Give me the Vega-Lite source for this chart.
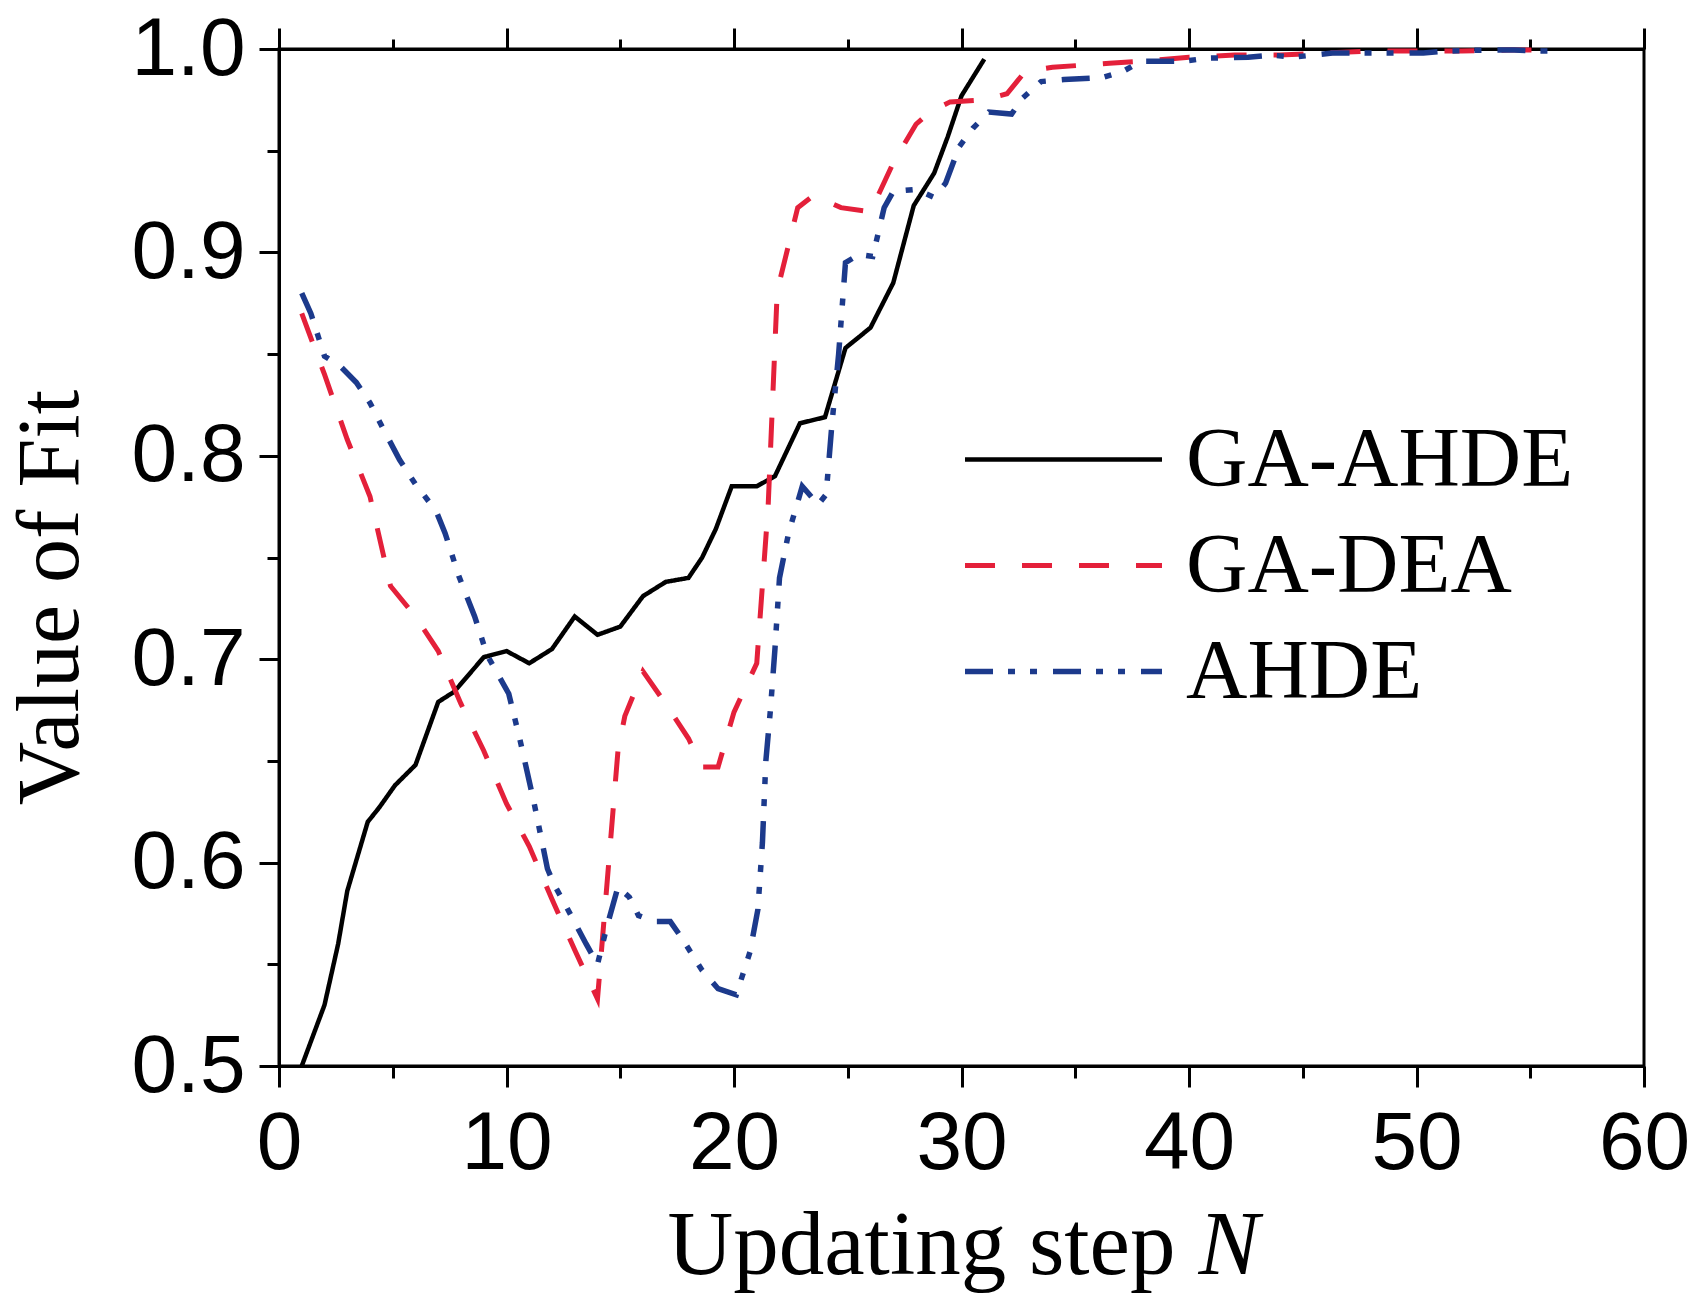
{
  "$schema": "https://vega.github.io/schema/vega-lite/v6.json",
  "width": 1365,
  "height": 1017,
  "autosize": {"type": "none"},
  "padding": {"left": 279, "top": 49, "right": 56, "bottom": 240},
  "background": "white",
  "data": {
    "values": [
      {"step": 1, "fit": 0.500, "method": "GA-AHDE"},
      {"step": 2, "fit": 0.530, "method": "GA-AHDE"},
      {"step": 2.6, "fit": 0.560, "method": "GA-AHDE"},
      {"step": 3, "fit": 0.586, "method": "GA-AHDE"},
      {"step": 3.9, "fit": 0.620, "method": "GA-AHDE"},
      {"step": 4.4, "fit": 0.627, "method": "GA-AHDE"},
      {"step": 5.1, "fit": 0.638, "method": "GA-AHDE"},
      {"step": 6, "fit": 0.648, "method": "GA-AHDE"},
      {"step": 7, "fit": 0.679, "method": "GA-AHDE"},
      {"step": 7.7, "fit": 0.684, "method": "GA-AHDE"},
      {"step": 9, "fit": 0.701, "method": "GA-AHDE"},
      {"step": 10, "fit": 0.704, "method": "GA-AHDE"},
      {"step": 11, "fit": 0.698, "method": "GA-AHDE"},
      {"step": 12, "fit": 0.705, "method": "GA-AHDE"},
      {"step": 13, "fit": 0.721, "method": "GA-AHDE"},
      {"step": 14, "fit": 0.712, "method": "GA-AHDE"},
      {"step": 15, "fit": 0.716, "method": "GA-AHDE"},
      {"step": 16, "fit": 0.731, "method": "GA-AHDE"},
      {"step": 17, "fit": 0.738, "method": "GA-AHDE"},
      {"step": 18, "fit": 0.740, "method": "GA-AHDE"},
      {"step": 18.6, "fit": 0.750, "method": "GA-AHDE"},
      {"step": 19.2, "fit": 0.764, "method": "GA-AHDE"},
      {"step": 19.9, "fit": 0.785, "method": "GA-AHDE"},
      {"step": 21, "fit": 0.785, "method": "GA-AHDE"},
      {"step": 21.8, "fit": 0.790, "method": "GA-AHDE"},
      {"step": 22.9, "fit": 0.816, "method": "GA-AHDE"},
      {"step": 24, "fit": 0.819, "method": "GA-AHDE"},
      {"step": 24.9, "fit": 0.853, "method": "GA-AHDE"},
      {"step": 26, "fit": 0.863, "method": "GA-AHDE"},
      {"step": 27, "fit": 0.885, "method": "GA-AHDE"},
      {"step": 27.9, "fit": 0.923, "method": "GA-AHDE"},
      {"step": 28.8, "fit": 0.939, "method": "GA-AHDE"},
      {"step": 29.4, "fit": 0.957, "method": "GA-AHDE"},
      {"step": 30, "fit": 0.977, "method": "GA-AHDE"},
      {"step": 31, "fit": 0.995, "method": "GA-AHDE"},

      {"step": 1, "fit": 0.870, "method": "GA-DEA"},
      {"step": 2, "fit": 0.840, "method": "GA-DEA"},
      {"step": 3, "fit": 0.808, "method": "GA-DEA"},
      {"step": 4, "fit": 0.780, "method": "GA-DEA"},
      {"step": 4.9, "fit": 0.736, "method": "GA-DEA"},
      {"step": 6, "fit": 0.721, "method": "GA-DEA"},
      {"step": 7, "fit": 0.704, "method": "GA-DEA"},
      {"step": 8, "fit": 0.678, "method": "GA-DEA"},
      {"step": 9, "fit": 0.655, "method": "GA-DEA"},
      {"step": 10, "fit": 0.629, "method": "GA-DEA"},
      {"step": 11, "fit": 0.608, "method": "GA-DEA"},
      {"step": 12, "fit": 0.582, "method": "GA-DEA"},
      {"step": 13, "fit": 0.557, "method": "GA-DEA"},
      {"step": 14, "fit": 0.533, "method": "GA-DEA"},
      {"step": 14.9, "fit": 0.655, "method": "GA-DEA"},
      {"step": 15.2, "fit": 0.672, "method": "GA-DEA"},
      {"step": 16, "fit": 0.694, "method": "GA-DEA"},
      {"step": 17, "fit": 0.678, "method": "GA-DEA"},
      {"step": 18, "fit": 0.661, "method": "GA-DEA"},
      {"step": 18.6, "fit": 0.647, "method": "GA-DEA"},
      {"step": 19.3, "fit": 0.647, "method": "GA-DEA"},
      {"step": 20, "fit": 0.674, "method": "GA-DEA"},
      {"step": 21, "fit": 0.698, "method": "GA-DEA"},
      {"step": 21.5, "fit": 0.775, "method": "GA-DEA"},
      {"step": 21.9, "fit": 0.881, "method": "GA-DEA"},
      {"step": 22.8, "fit": 0.922, "method": "GA-DEA"},
      {"step": 23.5, "fit": 0.928, "method": "GA-DEA"},
      {"step": 24.7, "fit": 0.922, "method": "GA-DEA"},
      {"step": 26, "fit": 0.920, "method": "GA-DEA"},
      {"step": 27, "fit": 0.944, "method": "GA-DEA"},
      {"step": 28, "fit": 0.963, "method": "GA-DEA"},
      {"step": 28.6, "fit": 0.969, "method": "GA-DEA"},
      {"step": 29.5, "fit": 0.974, "method": "GA-DEA"},
      {"step": 31, "fit": 0.975, "method": "GA-DEA"},
      {"step": 32, "fit": 0.978, "method": "GA-DEA"},
      {"step": 32.8, "fit": 0.989, "method": "GA-DEA"},
      {"step": 34, "fit": 0.991, "method": "GA-DEA"},
      {"step": 36.5, "fit": 0.993, "method": "GA-DEA"},
      {"step": 38, "fit": 0.994, "method": "GA-DEA"},
      {"step": 40, "fit": 0.996, "method": "GA-DEA"},
      {"step": 42, "fit": 0.997, "method": "GA-DEA"},
      {"step": 44, "fit": 0.997, "method": "GA-DEA"},
      {"step": 46, "fit": 0.998, "method": "GA-DEA"},
      {"step": 48, "fit": 0.999, "method": "GA-DEA"},
      {"step": 50, "fit": 0.999, "method": "GA-DEA"},
      {"step": 52, "fit": 0.999, "method": "GA-DEA"},
      {"step": 54, "fit": 0.9995, "method": "GA-DEA"},
      {"step": 55.5, "fit": 0.9995, "method": "GA-DEA"},

      {"step": 1, "fit": 0.880, "method": "AHDE"},
      {"step": 1.4, "fit": 0.870, "method": "AHDE"},
      {"step": 2, "fit": 0.849, "method": "AHDE"},
      {"step": 2.7, "fit": 0.844, "method": "AHDE"},
      {"step": 3.4, "fit": 0.836, "method": "AHDE"},
      {"step": 4, "fit": 0.826, "method": "AHDE"},
      {"step": 4.5, "fit": 0.815, "method": "AHDE"},
      {"step": 5.3, "fit": 0.798, "method": "AHDE"},
      {"step": 6, "fit": 0.786, "method": "AHDE"},
      {"step": 6.9, "fit": 0.773, "method": "AHDE"},
      {"step": 7.3, "fit": 0.762, "method": "AHDE"},
      {"step": 7.9, "fit": 0.741, "method": "AHDE"},
      {"step": 8.6, "fit": 0.721, "method": "AHDE"},
      {"step": 9.15, "fit": 0.702, "method": "AHDE"},
      {"step": 10.1, "fit": 0.683, "method": "AHDE"},
      {"step": 10.6, "fit": 0.660, "method": "AHDE"},
      {"step": 11.2, "fit": 0.630, "method": "AHDE"},
      {"step": 11.8, "fit": 0.597, "method": "AHDE"},
      {"step": 12.1, "fit": 0.589, "method": "AHDE"},
      {"step": 12.6, "fit": 0.579, "method": "AHDE"},
      {"step": 13.5, "fit": 0.560, "method": "AHDE"},
      {"step": 14, "fit": 0.550, "method": "AHDE"},
      {"step": 14.4, "fit": 0.568, "method": "AHDE"},
      {"step": 14.9, "fit": 0.588, "method": "AHDE"},
      {"step": 15.4, "fit": 0.583, "method": "AHDE"},
      {"step": 15.8, "fit": 0.574, "method": "AHDE"},
      {"step": 16.5, "fit": 0.571, "method": "AHDE"},
      {"step": 17.2, "fit": 0.571, "method": "AHDE"},
      {"step": 17.7, "fit": 0.563, "method": "AHDE"},
      {"step": 18.6, "fit": 0.547, "method": "AHDE"},
      {"step": 19.3, "fit": 0.538, "method": "AHDE"},
      {"step": 20.1, "fit": 0.535, "method": "AHDE"},
      {"step": 20.7, "fit": 0.556, "method": "AHDE"},
      {"step": 21.05, "fit": 0.577, "method": "AHDE"},
      {"step": 21.25, "fit": 0.610, "method": "AHDE"},
      {"step": 21.4, "fit": 0.650, "method": "AHDE"},
      {"step": 21.6, "fit": 0.675, "method": "AHDE"},
      {"step": 21.8, "fit": 0.705, "method": "AHDE"},
      {"step": 22, "fit": 0.740, "method": "AHDE"},
      {"step": 22.4, "fit": 0.762, "method": "AHDE"},
      {"step": 23, "fit": 0.785, "method": "AHDE"},
      {"step": 23.7, "fit": 0.776, "method": "AHDE"},
      {"step": 24.05, "fit": 0.781, "method": "AHDE"},
      {"step": 24.3, "fit": 0.815, "method": "AHDE"},
      {"step": 24.6, "fit": 0.850, "method": "AHDE"},
      {"step": 24.9, "fit": 0.895, "method": "AHDE"},
      {"step": 25.5, "fit": 0.899, "method": "AHDE"},
      {"step": 26.1, "fit": 0.898, "method": "AHDE"},
      {"step": 26.6, "fit": 0.922, "method": "AHDE"},
      {"step": 27, "fit": 0.930, "method": "AHDE"},
      {"step": 28, "fit": 0.931, "method": "AHDE"},
      {"step": 28.8, "fit": 0.927, "method": "AHDE"},
      {"step": 29.3, "fit": 0.934, "method": "AHDE"},
      {"step": 29.9, "fit": 0.952, "method": "AHDE"},
      {"step": 30.5, "fit": 0.961, "method": "AHDE"},
      {"step": 31.2, "fit": 0.969, "method": "AHDE"},
      {"step": 32.2, "fit": 0.968, "method": "AHDE"},
      {"step": 32.7, "fit": 0.976, "method": "AHDE"},
      {"step": 33.5, "fit": 0.984, "method": "AHDE"},
      {"step": 34.5, "fit": 0.985, "method": "AHDE"},
      {"step": 36.2, "fit": 0.986, "method": "AHDE"},
      {"step": 37.1, "fit": 0.989, "method": "AHDE"},
      {"step": 37.9, "fit": 0.994, "method": "AHDE"},
      {"step": 39.8, "fit": 0.994, "method": "AHDE"},
      {"step": 40.8, "fit": 0.9955, "method": "AHDE"},
      {"step": 42.6, "fit": 0.996, "method": "AHDE"},
      {"step": 43.6, "fit": 0.997, "method": "AHDE"},
      {"step": 44.6, "fit": 0.996, "method": "AHDE"},
      {"step": 46.3, "fit": 0.998, "method": "AHDE"},
      {"step": 48.5, "fit": 0.998, "method": "AHDE"},
      {"step": 50.3, "fit": 0.998, "method": "AHDE"},
      {"step": 51.3, "fit": 0.999, "method": "AHDE"},
      {"step": 53.2, "fit": 0.9995, "method": "AHDE"},
      {"step": 54.3, "fit": 0.9995, "method": "AHDE"},
      {"step": 55.2, "fit": 0.999, "method": "AHDE"},
      {"step": 56.2, "fit": 0.999, "method": "AHDE"}
    ]
  },
  "layer": [
    {
      "mark": {"type": "line", "clip": false},
      "encoding": {
        "x": {
          "field": "step",
          "type": "quantitative",
          "scale": {"domain": [0, 60], "nice": false},
          "axis": {
            "orient": "bottom",
            "values": [0, 10, 20, 30, 40, 50, 60],
            "tickSize": 21,
            "labelPadding": 16,
            "labelFlush": false,
            "labelOverlap": false,
            "title": "Updating step",
            "titleBaseline": "alphabetic",
            "titleAlign": "left",
            "titleX": 388,
            "titleY": 207
          }
        },
        "y": {
          "field": "fit",
          "type": "quantitative",
          "scale": {"domain": [0.5, 1.0], "nice": false},
          "axis": {
            "orient": "left",
            "values": [0.5, 0.6, 0.7, 0.8, 0.9, 1.0],
            "format": ".1f",
            "tickSize": 20,
            "labelPadding": 14,
            "labelFlush": false,
            "labelOverlap": false,
            "title": "Value of Fit",
            "titleFontSize": 88,
            "titleAngle": 270,
            "titleBaseline": "alphabetic",
            "titleAlign": "center",
            "titleX": -202,
            "titleY": 548
          }
        },
        "color": {
          "field": "method",
          "type": "nominal",
          "scale": {"domain": ["GA-AHDE", "GA-DEA", "AHDE"], "range": ["#000000", "#e4203a", "#1c3a8c"]},
          "legend": {
            "title": null,
            "orient": "none",
            "legendX": 742,
            "legendY": 368,
            "padding": 0,
            "symbolType": "M-5,0H5",
            "symbolSize": 1552,
            "symbolStrokeWidth": 6,
            "labelFont": "Liberation Serif",
            "labelFontSize": 85,
            "labelColor": "black",
            "labelOffset": 80,
            "labelLimit": 0,
            "rowPadding": 20
          }
        },
        "strokeDash": {
          "field": "method",
          "type": "nominal",
          "scale": {"domain": ["GA-AHDE", "GA-DEA", "AHDE"], "range": [[1, 0], [30, 27], [28, 15, 7, 15, 7, 16]]},
          "legend": {
            "title": null,
            "orient": "none",
            "legendX": 742,
            "legendY": 368,
            "padding": 0,
            "symbolType": "M-5,0H5",
            "symbolSize": 1552,
            "symbolStrokeWidth": 6,
            "labelFont": "Liberation Serif",
            "labelFontSize": 85,
            "labelColor": "black",
            "labelOffset": 80,
            "labelLimit": 0,
            "rowPadding": 20
          }
        },
        "strokeWidth": {
          "field": "method",
          "type": "nominal",
          "scale": {"domain": ["GA-AHDE", "GA-DEA", "AHDE"], "range": [4.5, 5.5, 5.5]},
          "legend": null
        }
      }
    },
    {
      "mark": {"type": "point", "opacity": 0},
      "encoding": {
        "x": {
          "field": "step",
          "type": "quantitative",
          "scale": {"domain": [0, 60], "nice": false},
          "axis": {
            "orient": "bottom",
            "values": [5, 15, 25, 35, 45, 55],
            "tickSize": 12,
            "labels": false,
            "domain": false,
            "title": "N",
            "titleFontStyle": "italic",
            "titleBaseline": "alphabetic",
            "titleAlign": "left",
            "titleX": 919,
            "titleY": 207
          }
        },
        "y": {
          "field": "fit",
          "type": "quantitative",
          "scale": {"domain": [0.5, 1.0], "nice": false},
          "axis": {"orient": "left", "values": [0.55, 0.65, 0.75, 0.85, 0.95], "tickSize": 12, "labels": false, "domain": false, "title": null}
        }
      }
    },
    {
      "mark": {"type": "point", "opacity": 0},
      "encoding": {
        "x": {
          "field": "step",
          "type": "quantitative",
          "scale": {"domain": [0, 60], "nice": false},
          "axis": {"orient": "top", "values": [0, 10, 20, 30, 40, 50, 60], "tickSize": 21, "labels": false, "domain": true, "title": null}
        },
        "y": {"field": "fit", "type": "quantitative", "scale": {"domain": [0.5, 1.0], "nice": false}, "axis": null}
      }
    },
    {
      "mark": {"type": "point", "opacity": 0},
      "encoding": {
        "x": {
          "field": "step",
          "type": "quantitative",
          "scale": {"domain": [0, 60], "nice": false},
          "axis": {"orient": "top", "values": [5, 15, 25, 35, 45, 55], "tickSize": 10, "labels": false, "domain": false, "title": null}
        },
        "y": {"field": "fit", "type": "quantitative", "scale": {"domain": [0.5, 1.0], "nice": false}, "axis": null}
      }
    }
  ],
  "resolve": {"axis": {"x": "independent", "y": "independent"}},
  "config": {
    "view": {"stroke": "black", "strokeWidth": 3},
    "axis": {
      "grid": false,
      "domainColor": "black",
      "domainWidth": 3,
      "tickColor": "black",
      "tickWidth": 3,
      "labelFont": "Liberation Sans",
      "labelFontSize": 82,
      "labelColor": "black",
      "titleFont": "Liberation Serif",
      "titleFontSize": 91,
      "titleFontWeight": "normal",
      "titleColor": "black"
    }
  }
}
